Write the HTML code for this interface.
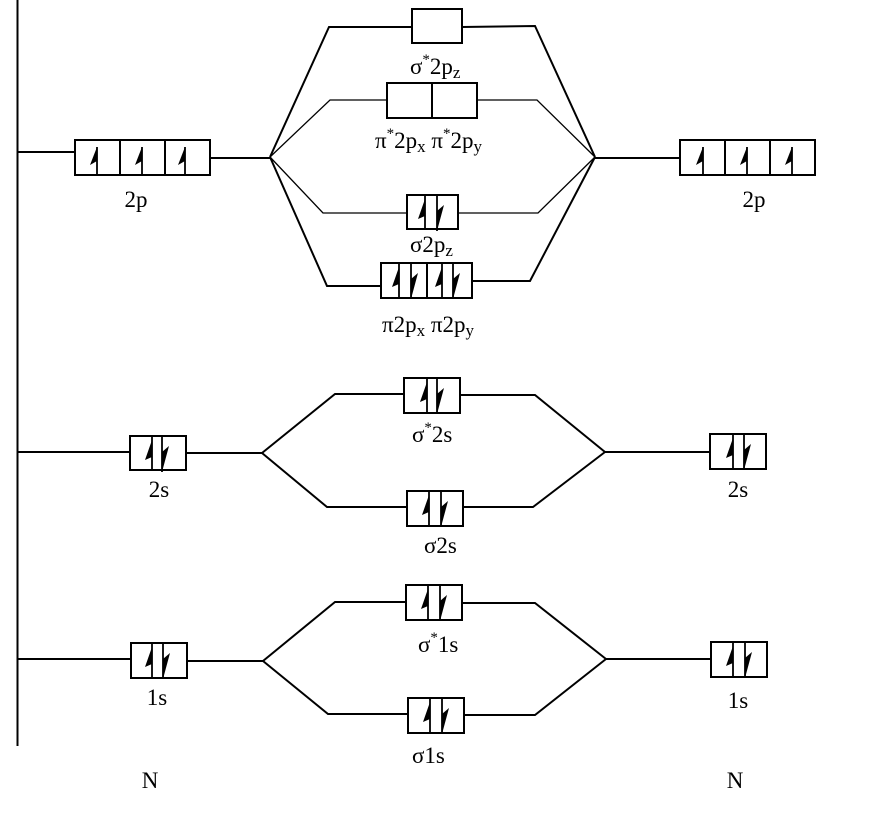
<!DOCTYPE html>
<html>
<head>
<meta charset="utf-8">
<style>
html,body{margin:0;padding:0;background:#fff;}
svg{display:block;}
text{font-family:"Liberation Serif",serif;font-size:23px;fill:#000;}
</style>
</head>
<body>
<svg width="881" height="813" viewBox="0 0 881 813" xmlns="http://www.w3.org/2000/svg">
<defs>
  <g id="up"><line x1="0" y1="0" x2="0" y2="35" stroke="#000" stroke-width="1.8"/><polygon points="0,4 -7,24 0,21" fill="#000"/></g>
  <g id="dn"><line x1="0" y1="0" x2="0" y2="36" stroke="#000" stroke-width="1.8"/><polygon points="0,36 7,10 0,16" fill="#000"/></g>
  <g id="up2"><line x1="0" y1="7" x2="0" y2="35" stroke="#000" stroke-width="1.8"/><polygon points="0,7 -7,25 0,21" fill="#000"/></g>
</defs>

<g fill="none" stroke="#000" stroke-width="2">
  <line x1="17.5" y1="0" x2="17.5" y2="746"/>

  <line x1="18" y1="152" x2="75" y2="152"/>
  <rect x="75" y="140" width="135" height="35"/>
  <line x1="120" y1="140" x2="120" y2="175"/>
  <line x1="165" y1="140" x2="165" y2="175"/>
  <line x1="210" y1="158" x2="270" y2="158"/>

  <line x1="595" y1="158" x2="680" y2="158"/>
  <rect x="680" y="140" width="135" height="35"/>
  <line x1="725" y1="140" x2="725" y2="175"/>
  <line x1="770" y1="140" x2="770" y2="175"/>

  <polyline points="270,157 329,27 412,27"/>
  <polyline points="462,27 535,26 595,157"/>
  <rect x="412" y="9" width="50" height="34"/>

  <polyline points="270,157 330,100 387,100" stroke-width="1.3"/>
  <polyline points="477,100 537,100 595,157" stroke-width="1.3"/>
  <rect x="387" y="83" width="90" height="35"/>
  <line x1="432" y1="83" x2="432" y2="118"/>

  <polyline points="270,157 323,213 407,213" stroke-width="1.3"/>
  <polyline points="458,213 538,213 595,157" stroke-width="1.3"/>
  <rect x="407" y="195" width="51" height="34"/>

  <polyline points="270,157 327,286 381,286"/>
  <polyline points="472,281 530,281 595,157"/>
  <rect x="381" y="263" width="91" height="35"/>
  <line x1="427" y1="263" x2="427" y2="298"/>

  <line x1="18" y1="452" x2="130" y2="452"/>
  <rect x="130" y="436" width="56" height="34"/>
  <line x1="186" y1="453" x2="262" y2="453"/>
  <polyline points="262,453 335,394 404,394"/>
  <polyline points="460,395 535,395 605,452"/>
  <polyline points="262,453 327,507 407,507"/>
  <polyline points="463,507 533,507 605,452"/>
  <line x1="605" y1="452" x2="710" y2="452"/>
  <rect x="404" y="378" width="56" height="35"/>
  <rect x="407" y="491" width="56" height="35"/>
  <rect x="710" y="434" width="56" height="35"/>

  <line x1="18" y1="659" x2="131" y2="659"/>
  <rect x="131" y="643" width="56" height="35"/>
  <line x1="187" y1="661" x2="263" y2="661"/>
  <polyline points="263,661 335,602 406,602"/>
  <polyline points="462,603 535,603 606,659"/>
  <polyline points="263,661 328,714 408,714"/>
  <polyline points="464,715 535,715 606,659"/>
  <line x1="606" y1="659" x2="711" y2="659"/>
  <rect x="406" y="585" width="56" height="35"/>
  <rect x="408" y="698" width="56" height="35"/>
  <rect x="711" y="642" width="56" height="35"/>
</g>

<use href="#up2" x="97" y="140"/>
<use href="#up2" x="142" y="140"/>
<use href="#up2" x="185" y="140"/>
<use href="#up2" x="703" y="140"/>
<use href="#up2" x="747" y="140"/>
<use href="#up2" x="792" y="140"/>

<use href="#up" x="425" y="195"/>
<use href="#dn" x="437" y="195"/>

<use href="#up" x="399" y="263"/>
<use href="#dn" x="411" y="263"/>
<use href="#up" x="442" y="263"/>
<use href="#dn" x="453" y="263"/>

<use href="#up" x="152" y="436"/>
<use href="#dn" x="162" y="436"/>
<use href="#up" x="427" y="378"/>
<use href="#dn" x="437" y="378"/>
<use href="#up" x="429" y="491"/>
<use href="#dn" x="441" y="491"/>
<use href="#up" x="733" y="434"/>
<use href="#dn" x="744" y="434"/>

<use href="#up" x="152" y="643"/>
<use href="#dn" x="163" y="643"/>
<use href="#up" x="428" y="585"/>
<use href="#dn" x="440" y="585"/>
<use href="#up" x="430" y="698"/>
<use href="#dn" x="442" y="698"/>
<use href="#up" x="733" y="642"/>
<use href="#dn" x="745" y="642"/>

<text x="136" y="207" text-anchor="middle">2p</text>
<text x="754" y="207" text-anchor="middle">2p</text>

<text x="410" y="74">σ<tspan dy="-10" font-size="15">*</tspan><tspan dy="10">2p</tspan><tspan dy="4" font-size="17">z</tspan></text>
<text x="375" y="148">π<tspan dy="-10" font-size="15">*</tspan><tspan dy="10">2p</tspan><tspan dy="4" font-size="17">x</tspan><tspan dy="-4"> π</tspan><tspan dy="-10" font-size="15">*</tspan><tspan dy="10">2p</tspan><tspan dy="4" font-size="17">y</tspan></text>
<text x="410" y="252">σ2p<tspan dy="4" font-size="17">z</tspan></text>
<text x="382" y="332">π2p<tspan dy="4" font-size="17">x</tspan><tspan dy="-4"> π2p</tspan><tspan dy="4" font-size="17">y</tspan></text>

<text x="159" y="497" text-anchor="middle">2s</text>
<text x="738" y="497" text-anchor="middle">2s</text>
<text x="412" y="442">σ<tspan dy="-10" font-size="15">*</tspan><tspan dy="10">2s</tspan></text>
<text x="424" y="553">σ2s</text>

<text x="157" y="705" text-anchor="middle">1s</text>
<text x="738" y="708" text-anchor="middle">1s</text>
<text x="418" y="652">σ<tspan dy="-10" font-size="15">*</tspan><tspan dy="10">1s</tspan></text>
<text x="412" y="763">σ1s</text>

<text x="150" y="788" text-anchor="middle">N</text>
<text x="735" y="788" text-anchor="middle">N</text>
</svg>
</body>
</html>
